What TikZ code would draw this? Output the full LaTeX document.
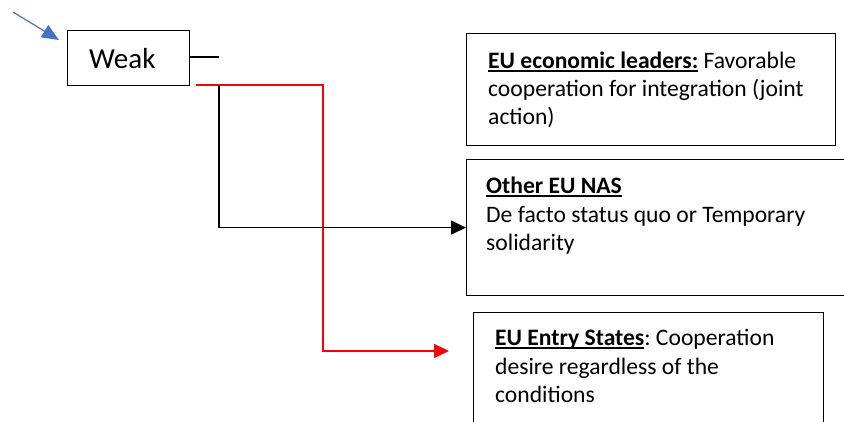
\documentclass[tikz,border=0pt]{standalone}
\usepackage{fontspec}
\setmainfont{Carlito}
\usetikzlibrary{arrows.meta}
\definecolor{officeblue}{RGB}{68,114,196}
\frenchspacing
% bold heading with a fixed-depth underline
\newcommand{\lbl}[1]{\setbox0=\hbox{\textbf{#1}}\rlap{\rule[-3.9pt]{\wd0}{1.6pt}}\box0\relax}
\begin{document}
\begin{tikzpicture}[x=1pt,y=-1pt,
  box/.style={draw=black,line width=1.1pt,inner sep=0pt,anchor=north west},
  txt/.style={anchor=base west,inner sep=0pt,font=\fontsize{23.6}{28}\selectfont},
  link/.style={line width=1.2pt},
  tip/.style={-{Triangle[length=15pt,width=14pt]}}]
\useasboundingbox (0,0) rectangle (844,421);

% source box
\node[box,minimum width=122pt,minimum height=55pt] (weak) at (67,30) {};
\node[anchor=base west,inner sep=0pt,font=\fontsize{29}{32}\selectfont] (weaktxt) at (89,68) {Weak};

% outcome boxes
\node[box,minimum width=369pt,minimum height=112pt] (b1) at (466,33) {};
\node[box,minimum width=390pt,minimum height=136pt] (b2) at (466,159) {};
\node[box,minimum width=350pt,minimum height=120pt] (b3) at (473,312) {};

\node[txt] (b1l1) at (488,68) {\lbl{EU economic leaders:} Favorable};
\node[txt] (b1l2) at (488,96) {cooperation for integration (joint};
\node[txt] (b1l3) at (488,124) {action)};

\node[txt] (b2l1) at (486,193) {\lbl{Other EU NAS}};
\node[txt] (b2l2) at (486,222) {De facto status quo or Temporary};
\node[txt] (b2l3) at (486,250) {solidarity};

\node[txt] (b3l1) at (495,345) {\lbl{EU Entry States}: Cooperation};
\node[txt] (b3l2) at (495,374) {desire regardless of the};
\node[txt] (b3l3) at (495,402) {conditions};

% connector points
\coordinate (inarrow) at (13,12);
\coordinate (stub) at (219,57);
\coordinate (blackstart) at (219,85);
\coordinate (redstart) at (196,85);
\coordinate (redturn) at (323,85);
\coordinate (redend) at (449,351);

% connectors
\draw[officeblue,line width=1.2pt,-{Triangle[length=17pt,width=14pt]}] (inarrow) -- (59,40);
\draw[link] (weak.east |- stub) -- (stub);
\draw[link,color=red,tip] (redstart) -- (redturn) |- (redend);
\draw[link,tip] (blackstart) |- (b2.west);
\end{tikzpicture}
\end{document}
